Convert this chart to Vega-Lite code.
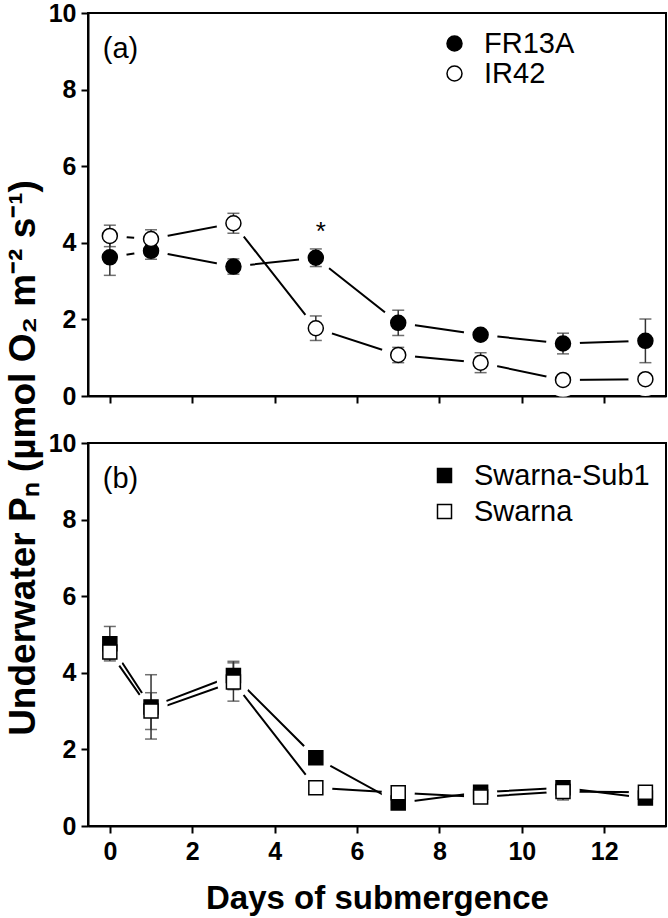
{
  "$schema": "https://vega.github.io/schema/vega-lite/v6.json",
  "padding": {"left": 5, "top": 0, "right": 1, "bottom": 0},
  "bounds": "flush",
  "spacing": 47,
  "title": {
    "text": "Underwater P\u2099 (\u00B5mol O\u2082 m\u207B\u00B2 s\u207B\u00B9)",
    "orient": "left",
    "anchor": "middle",
    "font": "Liberation Sans",
    "fontWeight": "bold",
    "fontSize": 37,
    "color": "black",
    "offset": 4
  },
  "datasets": {
    "a": [
      {"cultivar": "FR13A", "day": 0, "PN": 3.62, "se": 0.47},
      {"cultivar": "FR13A", "day": 1, "PN": 3.79, "se": 0.22},
      {"cultivar": "FR13A", "day": 3, "PN": 3.38, "se": 0.2},
      {"cultivar": "FR13A", "day": 5, "PN": 3.61, "se": 0.23},
      {"cultivar": "FR13A", "day": 7, "PN": 1.91, "se": 0.33},
      {"cultivar": "FR13A", "day": 9, "PN": 1.6, "se": 0.08},
      {"cultivar": "FR13A", "day": 11, "PN": 1.37, "se": 0.27},
      {"cultivar": "FR13A", "day": 13, "PN": 1.44, "se": 0.57},
      {"cultivar": "IR42", "day": 0, "PN": 4.18, "se": 0.28},
      {"cultivar": "IR42", "day": 1, "PN": 4.1, "se": 0.24},
      {"cultivar": "IR42", "day": 3, "PN": 4.51, "se": 0.26},
      {"cultivar": "IR42", "day": 5, "PN": 1.77, "se": 0.32},
      {"cultivar": "IR42", "day": 7, "PN": 1.07, "se": 0.2},
      {"cultivar": "IR42", "day": 9, "PN": 0.87, "se": 0.26},
      {"cultivar": "IR42", "day": 11, "PN": 0.42, "se": 0.05},
      {"cultivar": "IR42", "day": 13, "PN": 0.44, "se": 0.05}
    ],
    "b": [
      {"cultivar": "Swarna-Sub1", "day": 0, "PN": 4.76, "se": 0.45},
      {"cultivar": "Swarna-Sub1", "day": 1, "PN": 3.11, "se": 0.84},
      {"cultivar": "Swarna-Sub1", "day": 3, "PN": 3.93, "se": 0.37},
      {"cultivar": "Swarna-Sub1", "day": 5, "PN": 1.78, "se": 0.12},
      {"cultivar": "Swarna-Sub1", "day": 7, "PN": 0.6, "se": 0.1},
      {"cultivar": "Swarna-Sub1", "day": 9, "PN": 0.88, "se": 0.1},
      {"cultivar": "Swarna-Sub1", "day": 11, "PN": 1.0, "se": 0.1},
      {"cultivar": "Swarna-Sub1", "day": 13, "PN": 0.73, "se": 0.1},
      {"cultivar": "Swarna", "day": 0, "PN": 4.54, "se": 0.19},
      {"cultivar": "Swarna", "day": 1, "PN": 3.0, "se": 0.48},
      {"cultivar": "Swarna", "day": 3, "PN": 3.76, "se": 0.5},
      {"cultivar": "Swarna", "day": 5, "PN": 1.0, "se": 0.05},
      {"cultivar": "Swarna", "day": 7, "PN": 0.87, "se": 0.17},
      {"cultivar": "Swarna", "day": 9, "PN": 0.76, "se": 0.08},
      {"cultivar": "Swarna", "day": 11, "PN": 0.9, "se": 0.22},
      {"cultivar": "Swarna", "day": 13, "PN": 0.88, "se": 0.1}
    ],
    "notesA": [
      {"day": 5, "PN": 4.07, "label": "*", "kind": "star"},
      {"day": -0.17, "PN": 8.83, "label": "(a)", "kind": "panel"}
    ],
    "notesB": [
      {"day": -0.17, "PN": 8.83, "label": "(b)", "kind": "panel"}
    ]
  },
  "config": {
    "view": {"stroke": "black", "strokeWidth": 2},
    "axis": {
      "domainColor": "black",
      "domainWidth": 2,
      "tickColor": "black",
      "tickWidth": 2,
      "tickSize": 7,
      "grid": false,
      "labelFont": "Liberation Sans Narrow, Liberation Sans",
      "labelFontWeight": "bold",
      "labelFontSize": 25,
      "labelColor": "black",
      "titleFont": "Liberation Sans",
      "titleFontWeight": "bold",
      "titleColor": "black"
    },
    "legend": {
      "labelFont": "Liberation Sans",
      "labelFontSize": 29,
      "labelColor": "black",
      "labelLimit": 0,
      "padding": 0,
      "title": null
    }
  },
  "resolve": {
    "scale": {"fill": "independent", "shape": "independent"},
    "legend": {"fill": "independent", "shape": "independent"}
  },
  "vconcat": [
    {
      "width": 578,
      "height": 383,
      "data": {"name": "a"},
      "encoding": {
        "x": {"field": "day", "type": "quantitative", "scale": {"domain": [-0.53, 13.5], "nice": false, "zero": false},
              "axis": {"values": [0, 2, 4, 6, 8, 10, 12], "labels": false, "title": null}},
        "y": {"field": "PN", "type": "quantitative", "scale": {"domain": [0, 10], "nice": false},
              "axis": {"values": [0, 2, 4, 6, 8, 10], "title": null, "labelPadding": 5}}
      },
      "layer": [
        {"mark": {"type": "line", "color": "black", "strokeWidth": 2}, "encoding": {"detail": {"field": "cultivar"}}},
        {"mark": {"type": "point", "shape": "circle", "filled": true, "color": "white", "size": 1150, "opacity": 1}},
        {"mark": {"type": "errorbar", "color": "#333333", "thickness": 1.5, "ticks": {"size": 12, "thickness": 1.5, "color": "#333333"}},
         "encoding": {"yError": {"field": "se"}}},
        {"mark": {"type": "point", "shape": "circle", "size": 225, "strokeWidth": 1.5, "stroke": "black", "opacity": 1},
         "encoding": {
           "fill": {"field": "cultivar", "type": "nominal", "scale": {"domain": ["FR13A", "IR42"], "range": ["black", "white"]},
                    "legend": {"orient": "none", "legendX": 352, "legendY": 16, "symbolSize": 225, "symbolStrokeColor": "black", "symbolStrokeWidth": 1.5, "symbolType": "circle", "labelOffset": 15, "rowPadding": -1}}
         }},
        {"data": {"name": "notesA"}, "mark": {"type": "text", "font": "Liberation Sans", "color": "black", "align": "left", "baseline": "alphabetic"},
         "encoding": {
           "text": {"field": "label"},
           "size": {"field": "kind", "type": "nominal", "scale": {"domain": ["star", "panel"], "range": [26, 29]}, "legend": null},
           "dx": {"field": "kind", "type": "nominal", "scale": {"domain": ["star", "panel"], "range": [-7, 0]}, "legend": null}
         }}
      ]
    },
    {
      "width": 578,
      "height": 383,
      "data": {"name": "b"},
      "encoding": {
        "x": {"field": "day", "type": "quantitative", "scale": {"domain": [-0.53, 13.5], "nice": false, "zero": false},
              "axis": {"values": [0, 2, 4, 6, 8, 10, 12], "title": "Days of submergence", "titleFontSize": 33, "labelPadding": 6, "titlePadding": 18}},
        "y": {"field": "PN", "type": "quantitative", "scale": {"domain": [0, 10], "nice": false},
              "axis": {"values": [0, 2, 4, 6, 8, 10], "title": null, "labelPadding": 5}}
      },
      "layer": [
        {"mark": {"type": "line", "color": "black", "strokeWidth": 2}, "encoding": {"detail": {"field": "cultivar"}}},
        {"mark": {"type": "point", "shape": "circle", "filled": true, "color": "white", "size": 1100, "opacity": 1}},
        {"mark": {"type": "errorbar", "color": "#333333", "thickness": 1.5, "ticks": {"size": 12, "thickness": 1.5, "color": "#333333"}},
         "encoding": {"yError": {"field": "se"}}},
        {"mark": {"type": "point", "shape": "square", "size": 196, "strokeWidth": 1.5, "stroke": "black", "opacity": 1},
         "encoding": {
           "fill": {"field": "cultivar", "type": "nominal", "scale": {"domain": ["Swarna-Sub1", "Swarna"], "range": ["black", "white"]},
                    "legend": {"orient": "none", "legendX": 342, "legendY": 18, "symbolSize": 196, "symbolStrokeColor": "black", "symbolStrokeWidth": 1.5, "symbolType": "square", "labelOffset": 15, "rowPadding": 6}}
         }},
        {"data": {"name": "notesB"}, "mark": {"type": "text", "font": "Liberation Sans", "fontSize": 29, "color": "black", "align": "left", "baseline": "alphabetic"},
         "encoding": {"text": {"field": "label"}}}
      ]
    }
  ]
}
